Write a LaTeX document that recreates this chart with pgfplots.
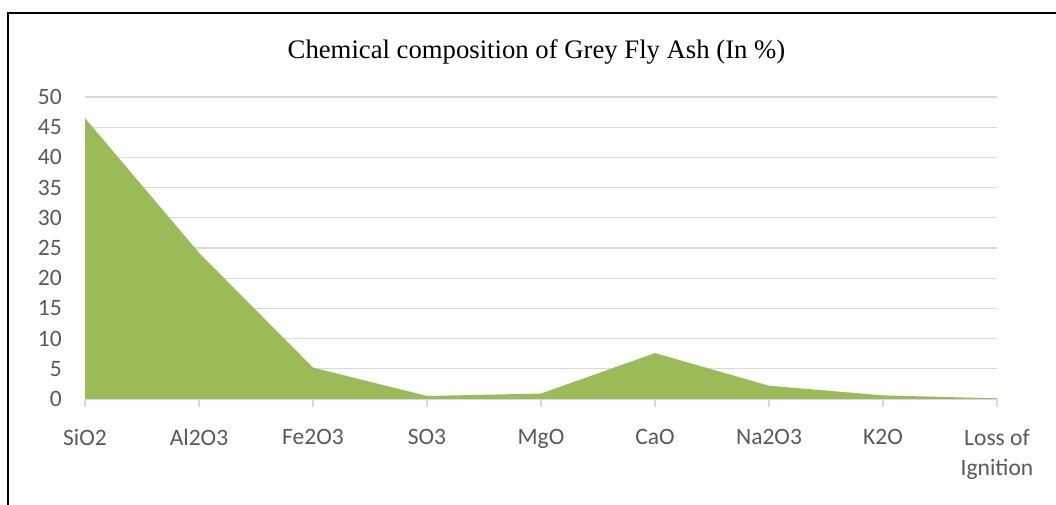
\documentclass[border=0pt]{standalone}
\usepackage{fontspec}
\setmainfont{Liberation Serif}
\newfontfamily\carlito{Carlito}
\usepackage{pgfplots}
\pgfplotsset{compat=1.18}
\definecolor{areagreen}{HTML}{9BBB59}
\definecolor{gridgray}{HTML}{D9D9D9}
\definecolor{textgray}{HTML}{595959}
\begin{document}
\begin{tikzpicture}
\useasboundingbox (0,0) rectangle (1056pt,505pt);
\draw[line width=2.5pt, black] (8pt,-20pt) -- (8pt,492pt) -- (1080pt,492pt);
\node[font=\fontsize{26.7}{30}\selectfont, anchor=base] at (536.5pt,446pt) {Chemical composition of Grey Fly Ash (In \%)};
\begin{axis}[
  at={(85pt,106pt)}, anchor=south west,
  scale only axis, width=912pt, height=302pt,
  xmin=0, xmax=8, ymin=0, ymax=50,
  xtick={0,1,2,3,4,5,6,7,8},
  xticklabels={SiO2,Al2O3,Fe2O3,SO3,MgO,CaO,Na2O3,K2O,{Loss of\\Ignition}},
  ytick={0,5,10,15,20,25,30,35,40,45,50},
  separate axis lines,
  axis x line*=bottom, axis y line*=left,
  x axis line style={draw=gridgray, line width=1.2pt, -},
  y axis line style={draw=none},
  ymajorgrids, grid style={draw=gridgray, line width=1.2pt},
  xtick align=outside, ytick style={draw=none},
  xtick style={draw=gridgray, line width=1.2pt},
  major tick length=8pt,
  ticklabel style={font=\carlito\fontsize{23.5}{30}\selectfont, text=textgray},
  /pgf/number format/assume math mode=true,
  xticklabel style={align=center, inner sep=0pt, yshift=-22pt},
  yticklabel style={anchor=east, inner sep=0pt, xshift=-23pt},
  clip=false,
]
\addplot[fill=areagreen, draw=none] coordinates {
  (0,46.5) (1,24.2) (2,5.2) (3,0.5) (4,0.9) (5,7.6) (6,2.2) (7,0.6) (8,0.1)
} \closedcycle;
\end{axis}
\end{tikzpicture}
\end{document}
